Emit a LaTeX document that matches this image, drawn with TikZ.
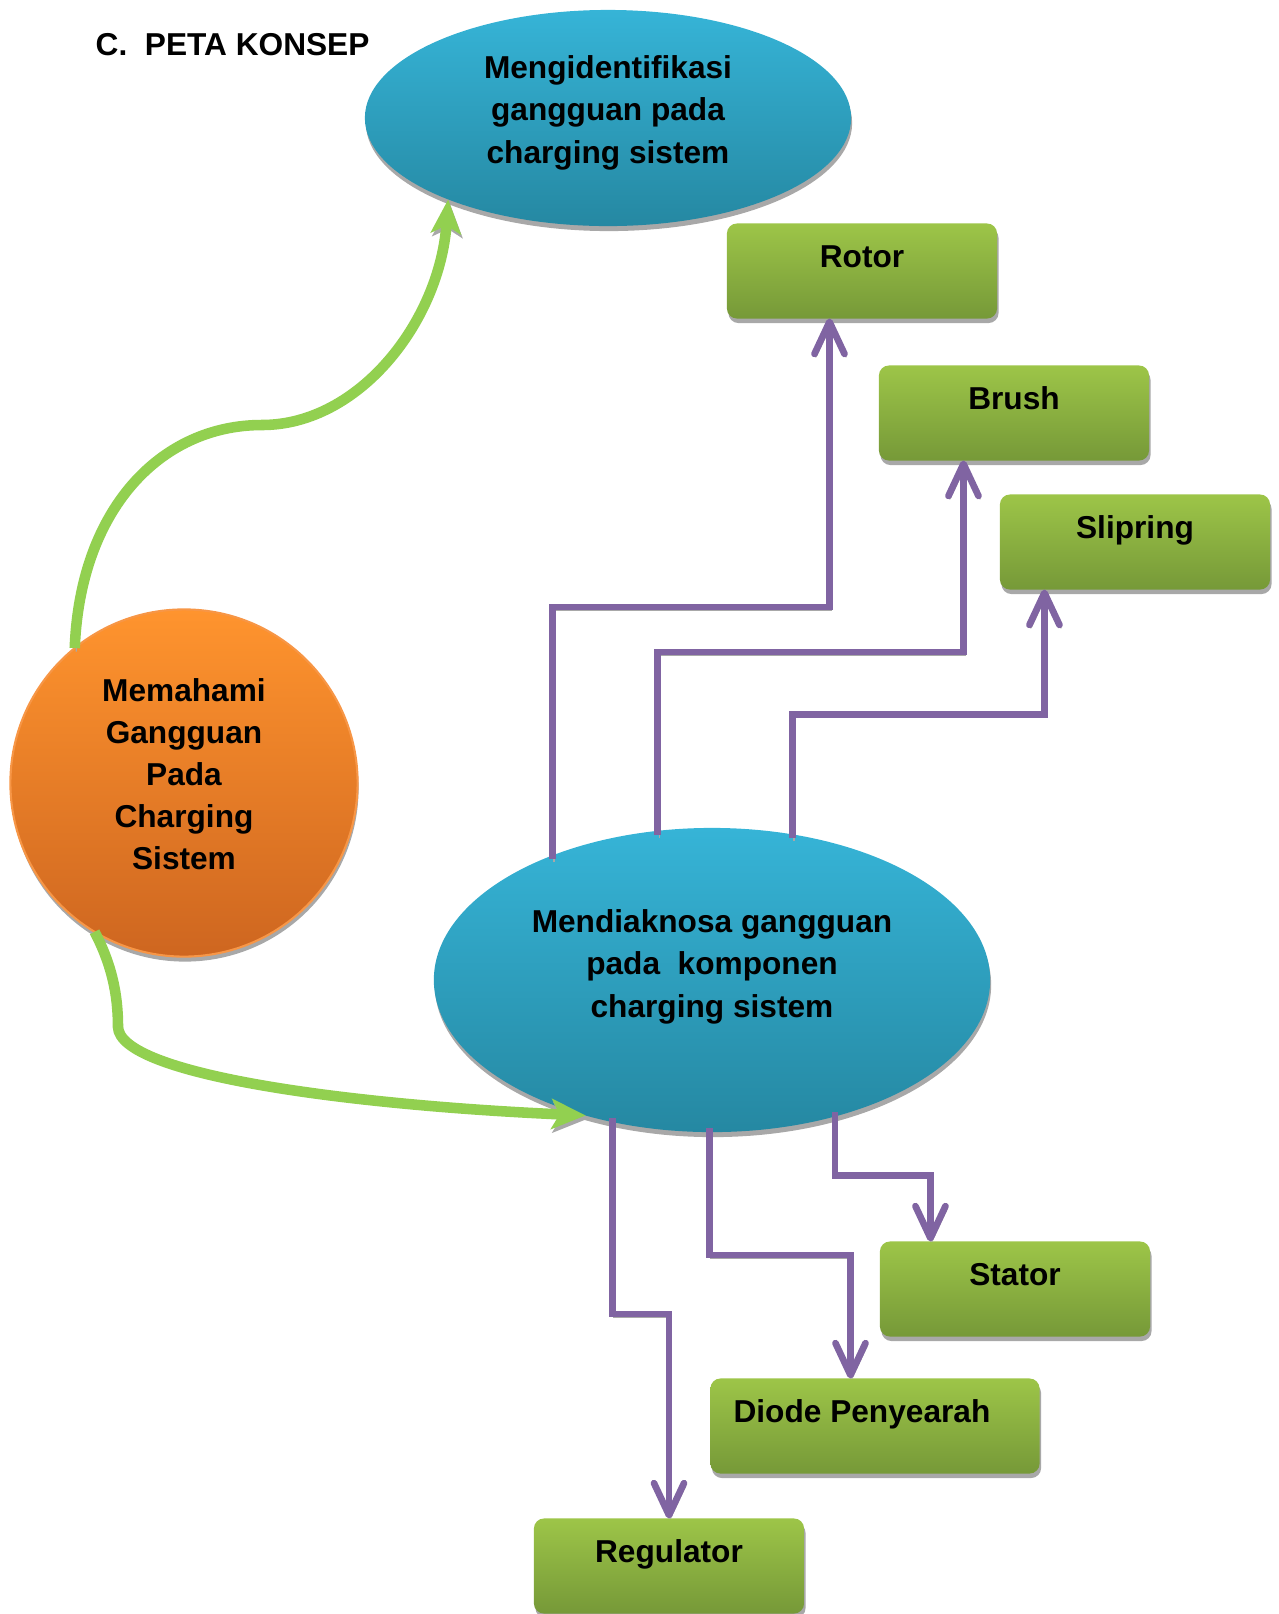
\documentclass[tikz,border=0pt]{standalone}
\usepackage{fontspec}
\setmainfont{Liberation Sans}
\usetikzlibrary{shapes,arrows.meta,positioning,shadows}

\definecolor{blueTop}{RGB}{54,180,215}
\definecolor{blueBot}{RGB}{37,136,162}
\definecolor{orangeTop}{RGB}{255,148,46}
\definecolor{orangeBot}{RGB}{206,102,32}
\definecolor{orangeLine}{RGB}{247,150,70}
\definecolor{greenTop}{RGB}{157,197,72}
\definecolor{greenBot}{RGB}{118,153,56}
\definecolor{greenLine}{RGB}{146,208,80}
\definecolor{purp}{RGB}{128,100,162}
\definecolor{shadowgray}{RGB}{168,168,168}

\begin{document}
\begin{tikzpicture}[x=0.01cm, y=-0.01cm, font=\fontsize{9}{12}\selectfont\bfseries]
    \tikzstyle{oval}   = [ellipse, top color=blueTop, bottom color=blueBot, align=center, inner sep=0pt, outer sep=0pt, general shadow={fill=shadowgray, shadow xshift=0.01cm, shadow yshift=-0.05cm}]
    \tikzstyle{ball}   = [circle, draw=orangeLine, line width=0.6pt, top color=orangeTop, bottom color=orangeBot, align=center, inner sep=0pt, outer sep=0pt, general shadow={fill=shadowgray, shadow xshift=0.01cm, shadow yshift=-0.05cm}]
    \tikzstyle{part}   = [rectangle, rounded corners=0.1cm, top color=greenTop, bottom color=greenBot, minimum width=2.7cm, minimum height=0.95cm, text height=0.435cm, text depth=0.515cm, inner sep=0pt, outer sep=0pt, general shadow={fill=shadowgray, shadow xshift=0.015cm, shadow yshift=-0.045cm}]
    \tikzstyle{purparrow}  = [line width=1.9pt, draw=purp, shorten <=-0.04cm, -{Straight Barb[length=0.32cm, width=0.3cm, round]}, preaction={draw=shadowgray, transform canvas={xshift=0.015cm, yshift=-0.03cm}}]
    \tikzstyle{greenarrow} = [line width=3pt, draw=greenLine, -{Stealth[length=0.34cm, width=0.3cm, inset=0.08cm]}, preaction={draw=shadowgray, transform canvas={xshift=0.015cm, yshift=-0.035cm}}]

    \useasboundingbox (0,0) rectangle (1279,1614);

    \node [anchor=west, inner sep=0pt] (title) at (95,45) {C.\ \ PETA KONSEP};

    \node [oval, minimum width=4.86cm, minimum height=2.16cm, text depth=0.17cm] (ident) at (608,118) {Mengidentifikasi\\gangguan pada\\charging sistem};
    \node [ball, minimum size=3.47cm, text depth=0.18cm] (mem) at (184,783) {Memahami\\Gangguan\\Pada\\Charging\\Sistem};
    \node [oval, minimum width=5.56cm, minimum height=3.04cm, text depth=0.33cm] (diag) at (712,980) {Mendiaknosa gangguan\\pada\ \ komponen\\charging sistem};

    \node [part] (rotor) at (862,271) {Rotor};
    \node [part] (brush) at (1014,413) {Brush};
    \node [part] (slip) at (1135,542) {Slipring};
    \node [part] (stator) at (1015,1289) {Stator};
    \node [part, minimum width=3.29cm] (diode) at (875,1426) {Diode Penyearah\hspace*{0.26cm}};
    \node [part] (reg) at (669,1566) {Regulator};

    \draw [purparrow] (diag.142.7) -- ++(0,-248.5) -| ([xshift=-0.325cm]rotor.south);
    \draw [purparrow] (diag.110.6) -- ++(0,-179) -| ([xshift=-0.505cm]brush.south);
    \draw [purparrow] (diag.61.9) -- ++(0,-120) -| ([xshift=-0.905cm]slip.south);

    \draw [purparrow] (diag.312.1) -- ++(0,59) -| ([xshift=-0.845cm]stator.north);
    \draw [purparrow] (diag.269) -- ++(0,123) -| ([xshift=-0.245cm]diode.north);
    \draw [purparrow] (diag.235.7) -- ++(0,192) -| (reg.north);

    \draw [greenarrow] (mem.129) .. controls (80,510) and (160,425) .. (262,425) .. controls (360,425) and (440,320) .. (ident.207);
    \draw [greenarrow] (mem.239) .. controls (112,965) and (118,995) .. (118,1027) .. controls (120,1075) and (350,1105) .. (diag.227);
\end{tikzpicture}
\end{document}
